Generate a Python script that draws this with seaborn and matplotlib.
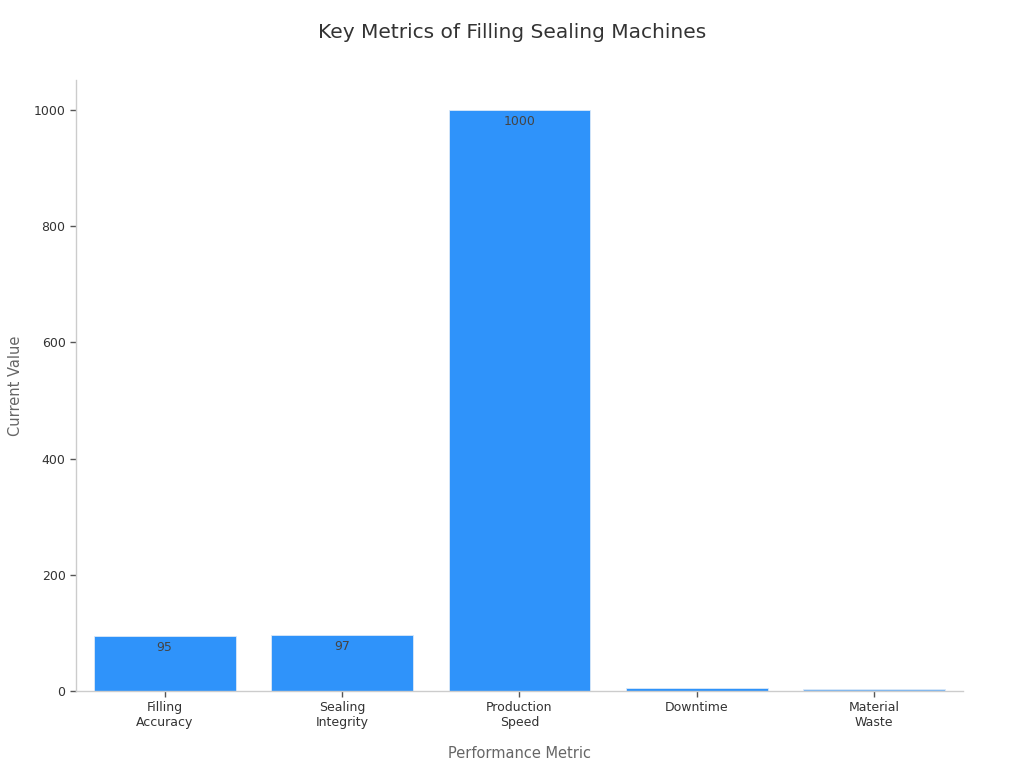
import matplotlib
matplotlib.use("Agg")
import matplotlib.pyplot as plt
import seaborn as sns
import pandas as pd

metrics = ["Filling\nAccuracy", "Sealing\nIntegrity", "Production\nSpeed", "Downtime", "Material\nWaste"]
values = [95, 97, 1000, 5, 3]
bar_colors = ["#2f93fa", "#2f93fa", "#2f93fa", "#2f93fa", "#74b4f5"]
shown_labels = ["95", "97", "1000", "", ""]

df = pd.DataFrame({"metric": metrics, "value": values})

sns.set_style("white")
plt.rcParams["font.family"] = ["DejaVu Sans"]

fig = plt.figure(figsize=(10.24, 7.68), dpi=100)
ax = fig.add_axes([0.0742, 0.1003, 0.8662, 0.7957])

sns.barplot(data=df, x="metric", y="value", hue="metric", palette=bar_colors,
            legend=False, width=0.8, saturation=1, edgecolor="#dbe9f8",
            linewidth=0.6, ax=ax)

for cont, lab in zip(ax.containers, shown_labels):
    ax.bar_label(cont, labels=[lab], padding=-13, fontsize=9, color="#444444")

ax.set_xlim(-0.5, 4.5)
ax.set_ylim(0, 1052)
ax.set_yticks([0, 200, 400, 600, 800, 1000])

sns.despine(ax=ax)
for s in ["left", "bottom"]:
    ax.spines[s].set_color("#cccccc")
    ax.spines[s].set_linewidth(1)

ax.tick_params(axis="both", bottom=True, left=True, length=4, width=1,
               color="#555555", labelsize=9, labelcolor="#333333")

ax.set_xlabel("Performance Metric", fontsize=10.5, color="#666666", labelpad=12)
ax.set_ylabel("Current Value", fontsize=10.5, color="#666666", labelpad=8)
fig.suptitle("Key Metrics of Filling Sealing Machines", fontsize=14.5, color="#333333", y=0.97)

fig.savefig("out.png", dpi=100)
